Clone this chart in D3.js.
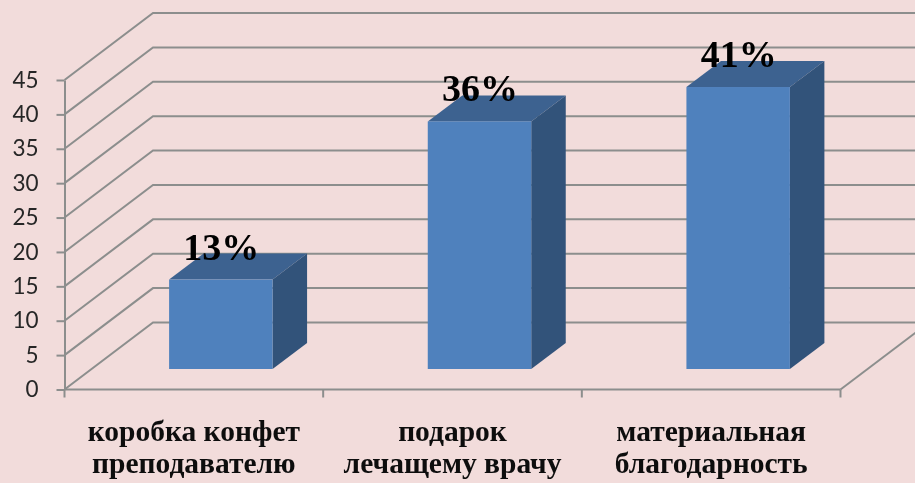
<!DOCTYPE html>
<html lang="ru">
<head>
    <meta charset="utf-8">
    <title>Chart</title>
    <script src="https://d3js.org/d3.v7.min.js"></script>
    <style>
        html, body { margin: 0; padding: 0; background: #f2dcdb; overflow: hidden; }
        svg { display: block; }
    </style>
</head>
<body>
<script>
    var w = 915, h = 483;

    var categories = ["коробка конфет", "подарок", "материальная"];
    var categories2 = ["преподавателю", "лечащему врачу", "благодарность"];
    var values = [13, 36, 41];
    var valueLabels = ["13%", "36%", "41%"];
    var yTicks = [0, 5, 10, 15, 20, 25, 30, 35, 40, 45];

    // front plane of the fake 3d box, and how far back it goes
    var left = 64.5, right = 840.5, bottom = 389.5, top45 = 80;
    var depthX = 88.5, depthY = -67;
    var barDepthX = 34.5, barDepthY = -26, barLift = 20.5, barShift = 27;

    var gridColor = "#8c8e8d", gridW = 2;

    var x = d3.scaleBand().domain(categories).range([left, right]).paddingInner(0.6).paddingOuter(0.3);
    var y = d3.scaleLinear().domain([0, 45]).range([bottom, top45]);

    var svg = d3.select("body").append("svg").attr("width", w).attr("height", h);

    var defs = svg.append("defs");
    defs.append("filter").attr("id", "soft").append("feGaussianBlur").attr("stdDeviation", 0.5);

    svg.append("rect").attr("width", w).attr("height", h).attr("fill", "#f2dcdb");

    var root = svg.append("g").attr("filter", "url(#soft)");

    // wall gridlines
    root.append("g").selectAll("polyline")
        .data(yTicks)
        .enter()
        .append("polyline")
        .attr("points", function(d) {
            return [[left, y(d)], [left + depthX, y(d) + depthY], [w + 5, y(d) + depthY]].join(" ");
        })
        .attr("fill", "none")
        .attr("stroke", gridColor)
        .attr("stroke-width", gridW);

    // floor right edge
    root.append("line")
        .attr("x1", right).attr("y1", y(0))
        .attr("x2", right + depthX).attr("y2", y(0) + depthY)
        .attr("stroke", gridColor).attr("stroke-width", gridW);

    // y axis
    var yAxis = root.append("g")
        .attr("transform", "translate(" + left + ",0)")
        .call(d3.axisLeft(y).tickValues(yTicks).tickSize(8).tickPadding(18).tickSizeOuter(0));
    yAxis.selectAll("path, line").attr("stroke", gridColor).attr("stroke-width", gridW);
    yAxis.selectAll("text")
        .attr("font-family", "Lato")
        .attr("font-size", 22.5)
        .attr("fill", "#262626");

    // x axis, ticks sit on the band borders
    root.append("line")
        .attr("x1", left).attr("x2", right)
        .attr("y1", y(0)).attr("y2", y(0))
        .attr("stroke", gridColor).attr("stroke-width", gridW);

    root.append("g").selectAll("line")
        .data(d3.range(categories.length + 1))
        .enter()
        .append("line")
        .attr("x1", function(d) { return left + d * x.step(); })
        .attr("x2", function(d) { return left + d * x.step(); })
        .attr("y1", y(0))
        .attr("y2", y(0) + 8)
        .attr("stroke", gridColor)
        .attr("stroke-width", gridW);

    // bars
    var bars = root.append("g").selectAll("g")
        .data(categories)
        .enter()
        .append("g");

    var barY = function(v) { return y(v) - barLift; };

    bars.append("polygon")
        .attr("fill", "#3c6290")
        .attr("points", function(d, i) {
            var x0 = x(d) + barShift, x1 = x0 + x.bandwidth(), t = barY(values[i]);
            return [[x0, t], [x1, t], [x1 + barDepthX, t + barDepthY], [x0 + barDepthX, t + barDepthY]].join(" ");
        });

    bars.append("polygon")
        .attr("fill", "#31527a")
        .attr("points", function(d, i) {
            var x1 = x(d) + barShift + x.bandwidth(), t = barY(values[i]), b = barY(0);
            return [[x1, t], [x1 + barDepthX, t + barDepthY], [x1 + barDepthX, b + barDepthY], [x1, b]].join(" ");
        });

    bars.append("rect")
        .attr("fill", "#4f81bd")
        .attr("x", function(d) { return x(d) + barShift; })
        .attr("y", function(d, i) { return barY(values[i]); })
        .attr("width", x.bandwidth())
        .attr("height", function(d, i) { return barY(0) - barY(values[i]); });

    // value labels
    root.append("g").selectAll("text")
        .data(categories)
        .enter()
        .append("text")
        .attr("x", function(d) { return x(d) + barShift + x.bandwidth() / 2 + 0.5; })
        .attr("y", function(d, i) { return barY(values[i]) - 20; })
        .attr("text-anchor", "middle")
        .attr("font-family", "Liberation Serif")
        .attr("font-weight", "bold")
        .attr("font-size", 38)
        .attr("fill", "#000")
        .text(function(d, i) { return valueLabels[i]; });

    // category labels, two lines each
    var labels = root.append("g").selectAll("text")
        .data(categories)
        .enter()
        .append("text")
        .attr("text-anchor", "middle")
        .attr("font-family", "Liberation Serif")
        .attr("font-weight", "bold")
        .attr("font-size", 29.5)
        .attr("fill", "#0d0d0d");

    labels.append("tspan")
        .attr("x", function(d) { return x(d) + x.bandwidth() / 2; })
        .attr("y", 441)
        .text(function(d) { return d; });

    labels.append("tspan")
        .attr("x", function(d) { return x(d) + x.bandwidth() / 2; })
        .attr("y", 473)
        .text(function(d, i) { return categories2[i]; });
</script>
</body>
</html>
